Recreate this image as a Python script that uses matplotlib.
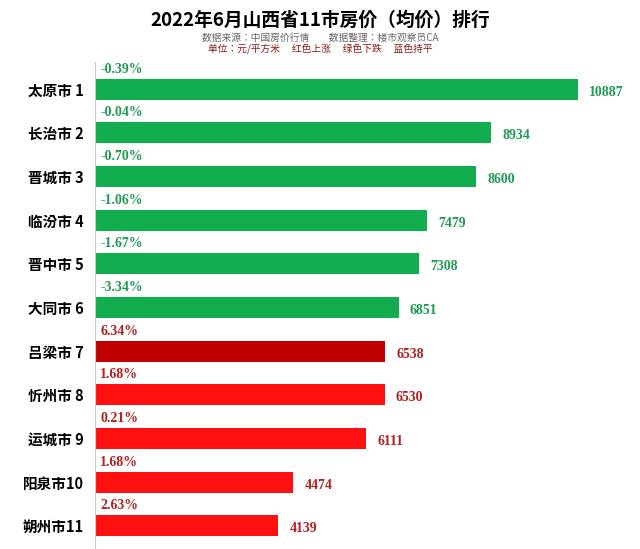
import matplotlib.pyplot as plt
from matplotlib import font_manager

names = {f.name for f in font_manager.fontManager.ttflist}
cjk = [n for n in ["Noto Sans CJK SC", "Noto Sans CJK JP", "Noto Sans CJK TC", "Noto Sans CJK KR"] if n in names]
plt.rcParams["font.family"] = cjk + ["DejaVu Sans"]

cities = ["太原市 1", "长治市 2", "晋城市 3", "临汾市 4", "晋中市 5", "大同市 6",
          "吕梁市 7", "忻州市 8", "运城市 9", "阳泉市10", "朔州市11"]
prices = [10887, 8934, 8600, 7479, 7308, 6851, 6538, 6530, 6111, 4474, 4139]
changes = ["-0.39%", "-0.04%", "-0.70%", "-1.06%", "-1.67%", "-3.34%",
           "6.34%", "1.68%", "0.21%", "1.68%", "2.63%"]

fig = plt.figure(figsize=(6.4, 5.49), dpi=100)
ax = fig.add_axes([0.148, 0.0, 0.852, 0.887])

colors = []
for c in changes:
    if c.startswith("-"):
        colors.append("#12ad4f")
    else:
        colors.append("#ff1010")
colors[6] = "#c00000"  # 涨幅最大

y = list(range(len(cities)))
ax.barh(y, prices, height=0.48, color=colors)
for i, (p, c) in enumerate(zip(prices, changes)):
    tc = "#1f9a55" if c.startswith("-") else "#b02020"
    ax.text(120, i - 0.31, c, color=tc, fontsize=10, family="Liberation Serif",
            fontweight="bold", va="bottom", ha="left")
    ax.text(p + 250, i + 0.07, str(p), color=tc, fontsize=10,
            family="Liberation Serif", fontweight="bold", va="center", ha="left")

ax.set_yticks(y)
ax.set_yticklabels(cities, fontsize=10.5, fontweight="bold")
ax.tick_params(axis="y", length=0, pad=8)
ax.set_xticks([])
ax.set_xlim(0, 12285)
ax.set_ylim(10.53, -0.62)
for s in ["top", "right", "bottom"]:
    ax.spines[s].set_visible(False)
ax.spines["left"].set_color("#cccccc")

fig.text(0.5, 0.963, "2022年6月山西省11市房价（均价）排行", ha="center", va="center",
         fontsize=13.5, fontweight="bold")
fig.text(0.5, 0.932, "数据来源：中国房价行情　　数据整理：楼市观察员CA", ha="center",
         va="center", fontsize=7, color="#666666")
fig.text(0.5, 0.912, "单位：元/平方米　 红色上涨　 绿色下跌　 蓝色持平", ha="center",
         va="center", fontsize=7, color="#8b1a1a")

fig.savefig("out.png", dpi=100)
